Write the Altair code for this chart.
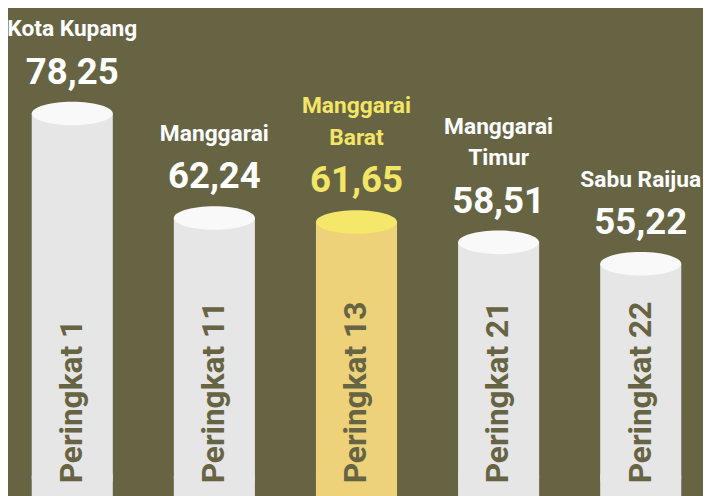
import altair as alt
import pandas as pd

names = ["Kota Kupang", "Manggarai", "Manggarai Barat", "Manggarai Timur", "Sabu Raijua"]
upper_lines = ["", "", "Manggarai", "Manggarai", ""]
lower_lines = ["Kota Kupang", "Manggarai", "Barat", "Timur", "Sabu Raijua"]
values = [78.25, 62.24, 61.65, 58.51, 55.22]
ranks = [1, 11, 13, 21, 22]
highlight = "Manggarai Barat"

df = pd.DataFrame({
    "name": names,
    "upper": upper_lines,
    "lower": lower_lines,
    "value": values,
    "value_label": [f"{v:.2f}".replace(".", ",") for v in values],
    "rank_label": [f"Peringkat {r}" for r in ranks],
    "hl": [n == highlight for n in names],
})

BG = "#676444"
FONT = "Roboto"
W = 82
TOP_SHAPE = "M -1 0 C -1 -0.16 -0.552 -0.29 0 -0.29 C 0.552 -0.29 1 -0.16 1 0 C 1 0.16 0.552 0.29 0 0.29 C -0.552 0.29 -1 0.16 -1 0 Z"
BOT_SHAPE = "M -1 0 C -1 -0.359 -0.552 -0.65 0 -0.65 C 0.552 -0.65 1 -0.359 1 0 C 1 0.359 0.552 0.65 0 0.65 C -0.552 0.65 -1 0.359 -1 0 Z"

x = alt.X("name:N", axis=None, sort=names,
          scale=alt.Scale(type="point", domain=names, range=[65, 640], padding=0))
y = alt.Y("value:Q", axis=None, scale=alt.Scale(domain=[20.07, 94.0], nice=False, zero=False))

body_color = alt.condition("datum.hl", alt.value("#edd27a"), alt.value("#e6e6e6"))
top_color = alt.condition("datum.hl", alt.value("#f5e76a"), alt.value("#f9f9f9"))
label_color = alt.condition("datum.hl", alt.value("#f3e667"), alt.value("#ffffff"))

base = alt.Chart(df)

bars = base.mark_bar(size=W).encode(x=x, y=y, y2=alt.value(472), color=body_color)
bottom = base.mark_point(shape=BOT_SHAPE, size=W * W, filled=True, opacity=1, strokeWidth=0).encode(
    x=x, y=alt.value(472), color=body_color)
top = base.mark_point(shape=TOP_SHAPE, size=W * W, filled=True, opacity=1, strokeWidth=0).encode(
    x=x, y=y, color=top_color)
rank_text = base.mark_text(angle=270, align="left", baseline="middle", font=FONT, fontWeight="bold",
                           fontSize=32, color=BG).encode(x=x, y=alt.value(478), text="rank_label:N")
value_text = base.mark_text(align="center", baseline="alphabetic", dy=-30, font=FONT, fontWeight="bold",
                            fontSize=37).encode(x=x, y=y, text="value_label:N", color=label_color)
lower_text = base.mark_text(align="center", baseline="alphabetic", dy=-78, font=FONT,
                            fontWeight="bold", fontSize=23).encode(x=x, y=y, text="lower:N", color=label_color)
upper_text = base.mark_text(align="center", baseline="alphabetic", dy=-110, font=FONT,
                            fontWeight="bold", fontSize=23).encode(x=x, y=y, text="upper:N", color=label_color)

chart = alt.layer(bars, bottom, top, rank_text, value_text, lower_text, upper_text).properties(
    width=703, height=488, background=BG, padding=0,
    autosize=alt.AutoSizeParams(type="none"),
).configure_view(strokeWidth=0)

chart.save("out.html", embed_options={"renderer": "svg", "actions": False})
